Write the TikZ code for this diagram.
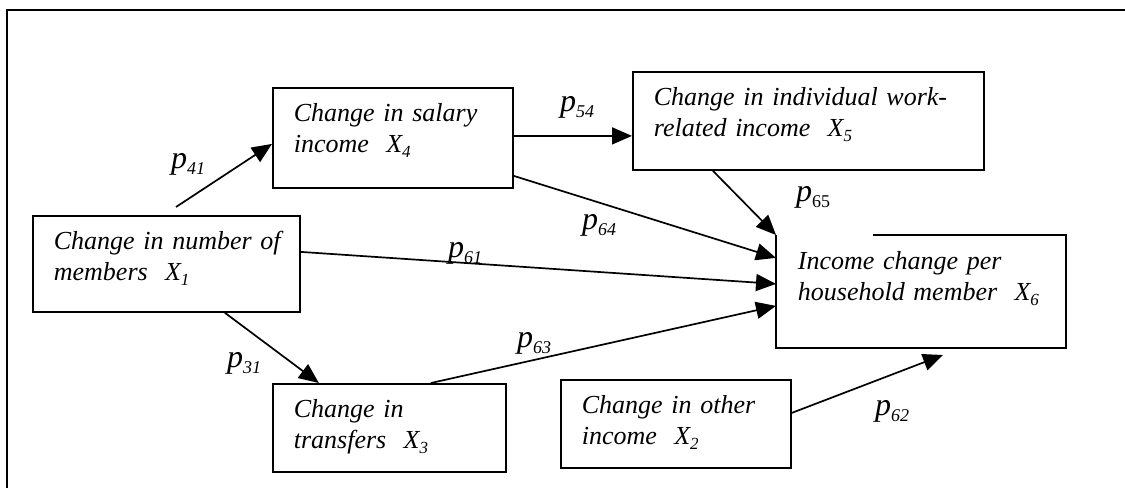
\documentclass[tikz,border=0pt]{standalone}
\usepackage{fontspec}
\setmainfont{Liberation Serif}
\usetikzlibrary{arrows.meta}

\newcommand{\xvar}[1]{\textit{X}\raisebox{-5pt}{\fontsize{17}{17}\selectfont\itshape #1}}
\newcommand{\pcoef}[2][\itshape]{{\fontsize{32}{32}\selectfont\itshape p}\raisebox{-6pt}{\fontsize{18}{18}\selectfont #1#2}}

\begin{document}
\begin{tikzpicture}[
    x=1pt,y=-1pt,
    box/.style={draw,line width=1.8pt,anchor=north west,align=left,
      inner xsep=21pt,inner ysep=0pt,text height=34pt,
      font=\itshape\fontsize{26}{31}\selectfont},
    effect/.style={line width=1.7pt,-{Triangle[length=20pt,width=17pt]}},
    coef/.style={inner sep=0pt}
  ]
    \useasboundingbox (0,0) rectangle (1125,488);

    % Outer frame (open at right and bottom)
    \draw[line width=1.8pt] (7,488) -- (7,10) -- (1125,10);

    % Variables
    \node[box,text width=225pt,text depth=62pt] (x1) at (32,215)
      {\mbox{Change in number of}\\ members~~\xvar{1}};
    \node[box,text width=198pt,text depth=66pt] (x4) at (272,87)
      {Change in salary\\ income~~\xvar{4}};
    \node[box,text width=309pt,text depth=64pt] (x5) at (632,71)
      {Change in individual work-\\ related income~~\xvar{5}};
    \node[box,text width=191pt,text depth=54pt] (x3) at (272,383)
      {Change in\\ transfers~~\xvar{3}};
    \node[box,text width=188pt,text depth=54pt] (x2) at (560,379)
      {Change in other\\ income~~\xvar{2}};

    % X6: top edge is broken on the left
    \node[box,draw=none,text width=246pt,text depth=77pt] (x6) at (776,235)
      {Income change per\\ household member~~\xvar{6}};
    \draw[line width=1.8pt] ([xshift=97pt]x6.north west) -- (x6.north east)
      -- (x6.south east) -- (x6.south west) -- (x6.north west);

    % Free ends
    \coordinate (s41) at (176,207);
    \coordinate (t62) at (943,355);

    % Paths
    \draw[effect] (s41) -- ([yshift=-6pt]x4.west);
    \draw[effect] ([yshift=2pt]x4.east) -- ([yshift=-15pt]x5.west);
    \draw[effect] ([yshift=-38pt]x4.east) -- ([yshift=33.5pt]x6.west);
    \draw[effect] ([yshift=12pt]x1.east) -- ([yshift=7.5pt]x6.west);
    \draw[effect] ([xshift=58.5pt]x1.south) -- ([xshift=-70.5pt]x3.north);
    \draw[effect] ([xshift=41.5pt]x3.north) -- ([yshift=-14.5pt]x6.west);
    \draw[effect] ([xshift=-95.5pt]x5.south) -- (x6.north west);
    \draw[effect] ([yshift=11pt]x2.east) -- (t62);

    % Path coefficients
    \node[coef] (p41) at (188,164) {\pcoef{41}};
    \node[coef] (p54) at (577,107) {\pcoef{54}};
    \node[coef] (p64) at (599,225) {\pcoef{64}};
    \node[coef] (p61) at (465,253) {\pcoef{61}};
    \node[coef] (p31) at (244,363) {\pcoef{31}};
    \node[coef] (p63) at (534,343) {\pcoef{63}};
    \node[coef] (p65) at (813,197) {\pcoef[\upshape]{65}};
    \node[coef] (p62) at (892,411) {\pcoef{62}};

  \end{tikzpicture}
\end{document}
